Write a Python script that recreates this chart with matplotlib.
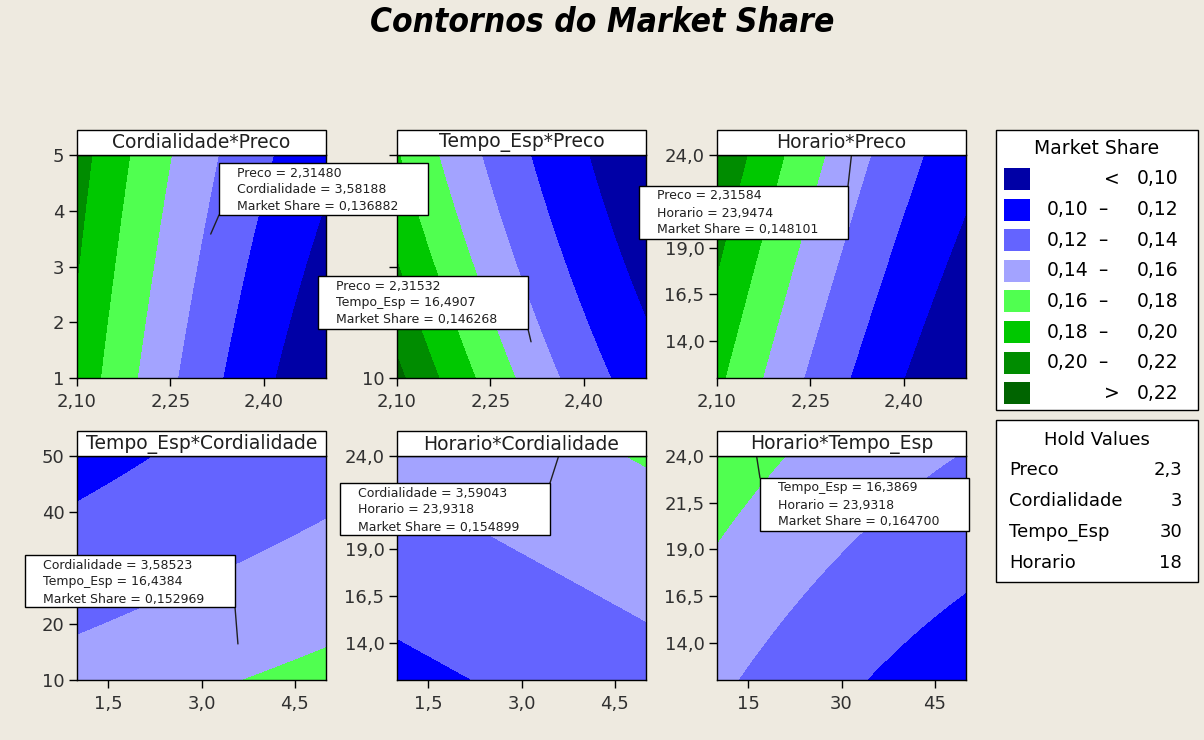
import numpy as np
import matplotlib
matplotlib.use('Agg')
import matplotlib.pyplot as plt
from matplotlib.patches import Rectangle

W, H = 1204, 740
BG = '#EEEAE0'

factors = ['Preco', 'Cordialidade', 'Tempo_Esp', 'Horario']
hold = [2.3, 3, 30, 18]
lows = [2.1, 1, 10, 12]
highs = [2.5, 5, 50, 24]

# response surface in coded units (x - hold) / half range
b0 = 0.138
b_lin = [-0.0535, 0.0089, -0.0168, 0.0145]
b_sq = [0.0095, 0.0, 0.0022, 0.0]
b_int = {(0, 1): 0.0015, (0, 2): 0.005, (0, 3): -0.002, (2, 3): 0.0012}

levels = [0.10, 0.12, 0.14, 0.16, 0.18, 0.20, 0.22]
colors = ['#0000A6', '#0000FF', '#6464FF', '#A3A3FF',
          '#50FF50', '#00C800', '#008C00', '#006400']

x_ticks = {'Preco': [2.10, 2.25, 2.40], 'Cordialidade': [1.5, 3.0, 4.5], 'Tempo_Esp': [15, 30, 45]}
x_labels = {'Preco': ['2,10', '2,25', '2,40'], 'Cordialidade': ['1,5', '3,0', '4,5'],
            'Tempo_Esp': ['15', '30', '45']}
y_ticks = {'Cordialidade': [1, 2, 3, 4, 5], 'Tempo_Esp': [10, 20, 30, 40, 50],
           'Horario': [14.0, 16.5, 19.0, 21.5, 24.0]}
y_labels = {'Cordialidade': ['1', '2', '3', '4', '5'], 'Tempo_Esp': ['10', '20', '30', '40', '50'],
            'Horario': ['14,0', '16,5', '19,0', '21,5', '24,0']}

# (x factor, y factor) for each panel
pairs = [(0, 1), (0, 2), (0, 3), (1, 2), (1, 3), (2, 3)]

# crosshair readouts
ann_x = [2.31480, 2.31532, 2.31584, 3.58523, 3.59043, 16.3869]
ann_y = [3.58188, 16.4907, 23.9474, 16.4384, 23.9318, 23.9318]
ann_ms = [0.136882, 0.146268, 0.148101, 0.152969, 0.154899, 0.164700]

# layout, pixels from top-left
col_x = [(77, 326), (397, 646), (717, 966)]
row_y = [(155, 378), (456, 680)]
ann_boxes = [(219, 163, 428, 215), (318, 276, 528, 329), (639, 186, 848, 239),
             (25, 555, 235, 607), (340, 483, 550, 535), (760, 478, 969, 531)]
ann_corner = ['bl', 'br', 'tr', 'br', 'tr', 'tl']


def market_share(vals):
    z = [(v - c) / ((hi - lo) / 2) for v, c, lo, hi in zip(vals, hold, lows, highs)]
    out = b0
    for i in range(4):
        out = out + b_lin[i] * z[i] + b_sq[i] * z[i] ** 2
    for (i, j), b in b_int.items():
        out = out + b * z[i] * z[j]
    return out


def comma(v, nd):
    return f'{v:.{nd}f}'.replace('.', ',')


def sig6(v):
    ip = int(abs(v))
    nd = 6 - (len(str(ip)) if ip > 0 else 0)
    return comma(v, nd)


def fx(x):
    return x / W


def fy(y):
    return 1 - y / H


fig = plt.figure(figsize=(W / 100, H / 100), dpi=100, facecolor=BG)
plt.rcParams['font.family'] = 'DejaVu Sans'

fig.text(0.5, fy(23), 'Contornos do Market Share', ha='center', va='center',
         fontsize=24, fontweight='bold', fontstyle='italic', fontstretch='condensed')

axes = []
for k, (ix, iy) in enumerate(pairs):
    x0, x1 = col_x[k % 3]
    y0, y1 = row_y[k // 3]
    ax = fig.add_axes([fx(x0), fy(y1), fx(x1) - fx(x0), fy(y0) - fy(y1)])
    axes.append(ax)

    xs = np.linspace(lows[ix], highs[ix], 300)
    ys = np.linspace(lows[iy], highs[iy], 300)
    X, Y = np.meshgrid(xs, ys)
    vals = [np.full_like(X, h) for h in hold]
    vals[ix] = X
    vals[iy] = Y
    Z = market_share(vals)
    ax.contourf(X, Y, Z, levels=[-1] + levels + [1], colors=colors, antialiased=False)

    ax.set_xlim(lows[ix], highs[ix])
    ax.set_ylim(lows[iy], highs[iy])
    ax.set_xticks(x_ticks[factors[ix]])
    ax.set_xticklabels(x_labels[factors[ix]])
    ax.set_yticks(y_ticks[factors[iy]])
    ax.set_yticklabels(y_labels[factors[iy]])
    ax.tick_params(direction='out', length=6, width=1, labelsize=13,
                   labelcolor='#303030', pad=3)
    ax.tick_params(axis='x', pad=5)
    for s in ax.spines.values():
        s.set_linewidth(1)

    # title strip
    fig.add_artist(Rectangle((fx(x0), fy(y0)), fx(x1) - fx(x0), fy(y0 - 25) - fy(y0),
                             transform=fig.transFigure, facecolor='white',
                             edgecolor='black', lw=1))
    fig.text(fx((x0 + x1) / 2), fy(y0 - 12), factors[iy] + '*' + factors[ix],
             ha='center', va='center', fontsize=13.5, color='#202020')

    # readout box with pointer
    bx0, by0, bx1, by1 = ann_boxes[k]
    corner = ann_corner[k]
    cx = bx0 if corner[1] == 'l' else bx1
    cy = by0 if corner[0] == 't' else by1
    ax.annotate('', xy=(ann_x[k], ann_y[k]), xycoords='data',
                xytext=(cx, H - cy), textcoords='figure pixels',
                arrowprops=dict(arrowstyle='-', color='#202020', lw=1,
                                shrinkA=0, shrinkB=0))
    fig.add_artist(Rectangle((fx(bx0), fy(by1)), fx(bx1) - fx(bx0), fy(by0) - fy(by1),
                             transform=fig.transFigure, facecolor='white',
                             edgecolor='black', lw=1))
    lines = [factors[ix] + ' = ' + sig6(ann_x[k]),
             factors[iy] + ' = ' + sig6(ann_y[k]),
             'Market Share = ' + sig6(ann_ms[k])]
    for j, t in enumerate(lines):
        fig.text(fx(bx0 + 18), fy(by0 + 10 + 17 * j), t, ha='left', va='center',
                 fontsize=9, color='#202020')

# legend of contour bands
fig.add_artist(Rectangle((fx(996), fy(410)), fx(1198) - fx(996), fy(130) - fy(410),
                         transform=fig.transFigure, facecolor='white',
                         edgecolor='black', lw=1))
fig.text(fx(1097), fy(148), 'Market Share', ha='center', va='center', fontsize=13.5)
bounds = [None] + levels + [None]
for i, c in enumerate(colors):
    yc = 179 + 30.6 * i
    fig.add_artist(Rectangle((fx(1004), fy(yc + 11)), fx(1030) - fx(1004), fy(yc - 11) - fy(yc + 11),
                             transform=fig.transFigure, facecolor=c, edgecolor='none'))
    lo, hi = bounds[i], bounds[i + 1]
    if lo is None:
        fig.text(fx(1112), fy(yc), '<', ha='center', va='center', fontsize=13.5)
        fig.text(fx(1178), fy(yc), comma(hi, 2), ha='right', va='center', fontsize=13.5)
    elif hi is None:
        fig.text(fx(1112), fy(yc), '>', ha='center', va='center', fontsize=13.5)
        fig.text(fx(1178), fy(yc), comma(lo, 2), ha='right', va='center', fontsize=13.5)
    else:
        fig.text(fx(1088), fy(yc), comma(lo, 2), ha='right', va='center', fontsize=13.5)
        fig.text(fx(1103), fy(yc), '\u2013', ha='center', va='center', fontsize=13.5)
        fig.text(fx(1178), fy(yc), comma(hi, 2), ha='right', va='center', fontsize=13.5)

# hold values box
fig.add_artist(Rectangle((fx(996), fy(582)), fx(1198) - fx(996), fy(420) - fy(582),
                         transform=fig.transFigure, facecolor='white',
                         edgecolor='black', lw=1))
fig.text(fx(1097), fy(440), 'Hold Values', ha='center', va='center', fontsize=13)
hold_labels = ['2,3', '3', '30', '18']
for i, name in enumerate(factors):
    yc = 470 + 31 * i
    fig.text(fx(1009), fy(yc), name, ha='left', va='center', fontsize=13)
    fig.text(fx(1182), fy(yc), hold_labels[i], ha='right', va='center', fontsize=13)

# tick labels that sit under a readout box are not shown
fig.canvas.draw()
renderer = fig.canvas.get_renderer()
for ax in axes:
    for lab in ax.get_xticklabels() + ax.get_yticklabels():
        bb = lab.get_window_extent(renderer)
        for bx0, by0, bx1, by1 in ann_boxes:
            if bb.x1 > bx0 and bb.x0 < bx1 and bb.y1 > H - by1 + 2 and bb.y0 < H - by0:
                lab.set_visible(False)

fig.savefig('out.png', dpi=100, facecolor=BG)
